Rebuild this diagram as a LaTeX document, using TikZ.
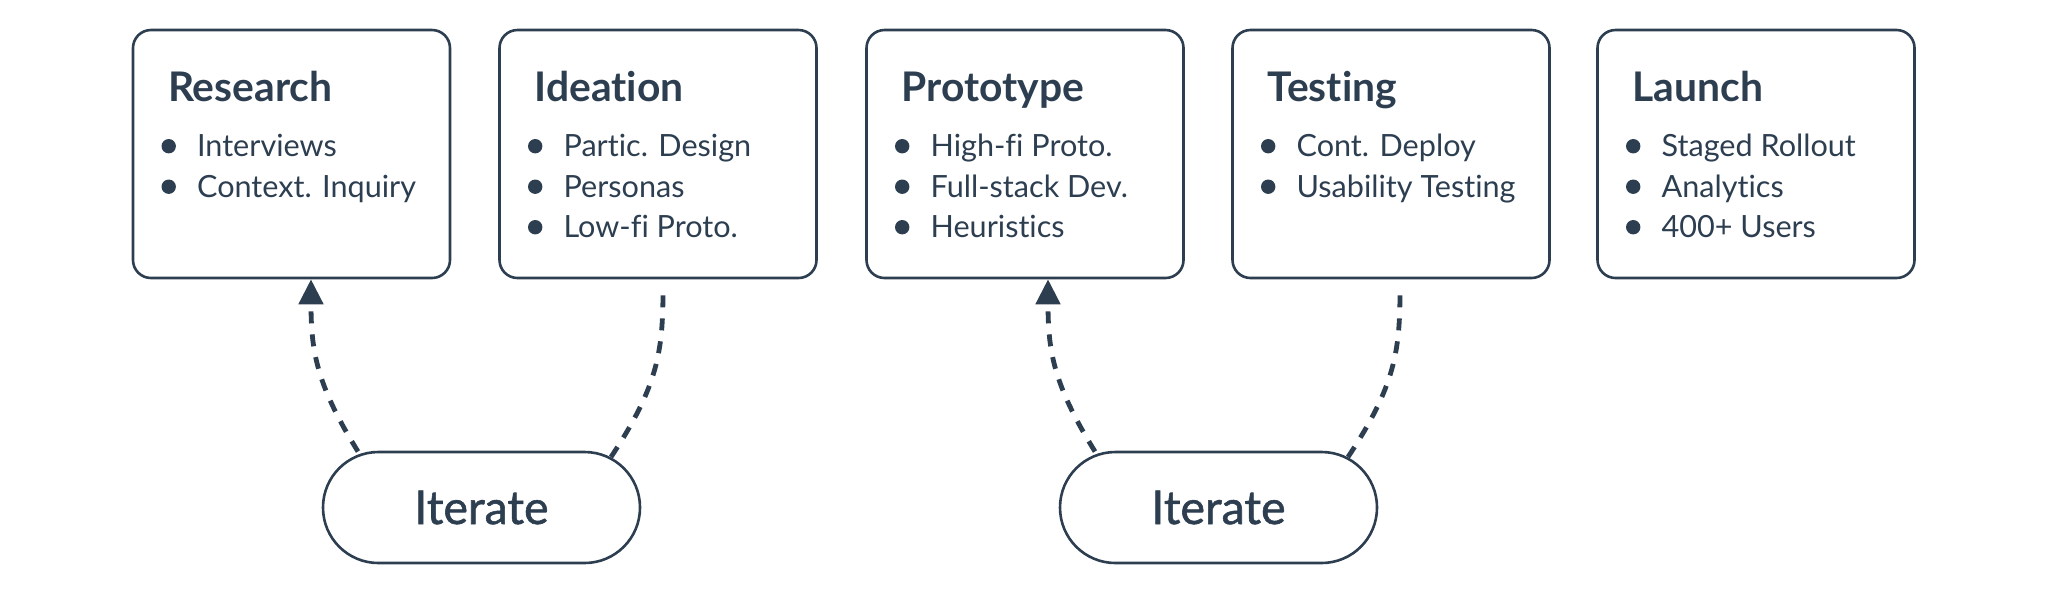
\documentclass[tikz,border=0pt]{standalone}
\usepackage{fontspec}
\setmainfont{Lato}[Ligatures={NoCommon}]
\newfontfamily\iterfont{Lato}[FakeBold=1.2,Ligatures={NoCommon}]
\usetikzlibrary{arrows.meta,calc}
\definecolor{ink}{HTML}{2C3E50}
\begin{document}
\begin{tikzpicture}[x=0.5pt,y=-0.5pt,
  stagebox/.style={draw=ink, line width=1.3pt, rounded corners=9pt, minimum width=158.5pt, minimum height=124pt, inner sep=0pt},
  iterbox/.style={draw=ink, line width=1.3pt, rounded corners=27.7pt, minimum width=158.5pt, minimum height=55.5pt, inner sep=0pt, text=ink, font=\iterfont\fontsize{23.3pt}{27pt}\selectfont},
  ttl/.style={anchor=base west, inner sep=0pt, text=ink, font=\bfseries\fontsize{20.4pt}{24pt}\selectfont},
  itm/.style={anchor=base west, inner sep=0pt, text=ink, font=\fontsize{15.3pt}{18pt}\selectfont},
  dot/.style={fill=ink},
  loop/.style={draw=ink, line width=2.4pt, dash pattern=on 6pt off 5.5pt},
  tip/.style={-{Triangle[width=12pt,length=12.5pt]}}
]
\useasboundingbox (0,0) rectangle (2048,591);

% stage boxes
\node[stagebox] (research)  at (291.5,154) {};
\node[stagebox] (ideation)  at (658,154)   {};
\node[stagebox] (prototype) at (1025,154)  {};
\node[stagebox] (testing)   at (1391,154)  {};
\node[stagebox] (launch)    at (1756,154)  {};

% titles and items
\node[ttl] (researchT) at ($(research.north west)+(36,73)$) {Research};
\fill[dot] ($(research.north west)+(37,117.5)$) circle[radius=3.6pt];
\node[itm] (researchA) at ($(research.north west)+(65,128)$) {Interviews};
\fill[dot] ($(research.north west)+(37,158)$) circle[radius=3.6pt];
\node[itm] (researchB) at ($(research.north west)+(65,168.5)$) {Context. Inquiry};

\node[ttl] (ideationT) at ($(ideation.north west)+(36,73)$) {Ideation};
\fill[dot] ($(ideation.north west)+(37,117.5)$) circle[radius=3.6pt];
\node[itm] (ideationA) at ($(ideation.north west)+(65,128)$) {Partic. Design};
\fill[dot] ($(ideation.north west)+(37,158)$) circle[radius=3.6pt];
\node[itm] (ideationB) at ($(ideation.north west)+(65,168.5)$) {Personas};
\fill[dot] ($(ideation.north west)+(37,198.5)$) circle[radius=3.6pt];
\node[itm] (ideationC) at ($(ideation.north west)+(65,209)$) {Low-fi Proto.};

\node[ttl] (prototypeT) at ($(prototype.north west)+(36,73)$) {Prototype};
\fill[dot] ($(prototype.north west)+(37,117.5)$) circle[radius=3.6pt];
\node[itm] (prototypeA) at ($(prototype.north west)+(65,128)$) {High-fi Proto.};
\fill[dot] ($(prototype.north west)+(37,158)$) circle[radius=3.6pt];
\node[itm] (prototypeB) at ($(prototype.north west)+(65,168.5)$) {Full-stack Dev.};
\fill[dot] ($(prototype.north west)+(37,198.5)$) circle[radius=3.6pt];
\node[itm] (prototypeC) at ($(prototype.north west)+(65,209)$) {Heuristics};

\node[ttl] (testingT) at ($(testing.north west)+(36,73)$) {Testing};
\fill[dot] ($(testing.north west)+(37,117.5)$) circle[radius=3.6pt];
\node[itm] (testingA) at ($(testing.north west)+(65,128)$) {Cont. Deploy};
\fill[dot] ($(testing.north west)+(37,158)$) circle[radius=3.6pt];
\node[itm] (testingB) at ($(testing.north west)+(65,168.5)$) {Usability Testing};

\node[ttl] (launchT) at ($(launch.north west)+(36,73)$) {Launch};
\fill[dot] ($(launch.north west)+(37,117.5)$) circle[radius=3.6pt];
\node[itm] (launchA) at ($(launch.north west)+(65,128)$) {Staged Rollout};
\fill[dot] ($(launch.north west)+(37,158)$) circle[radius=3.6pt];
\node[itm] (launchB) at ($(launch.north west)+(65,168.5)$) {Analytics};
\fill[dot] ($(launch.north west)+(37,198.5)$) circle[radius=3.6pt];
\node[itm] (launchC) at ($(launch.north west)+(65,209)$) {400+ Users};

% iterate nodes
\node[iterbox] (iter1) at (481.5,507.5) {Iterate};
\node[iterbox] (iter2) at (1218.5,507.5) {Iterate};

% loops
\draw[loop,tip] ($(iter1.center)+(-123.5,-56)$) .. controls ($(iter1.center)+(-165.5,-123.5)$) and ($(research.south)+(19.5,71)$) .. ($(research.south)+(19.5,0)$);
\draw[loop] ($(iter1.center)+(129.5,-50.5)$) .. controls ($(iter1.center)+(176.5,-121.5)$) and ($(ideation.south)+(5,72)$) .. ($(ideation.south)+(5,10)$);

\draw[loop,tip] ($(iter2.center)+(-123.5,-56)$) .. controls ($(iter2.center)+(-165.5,-123.5)$) and ($(prototype.south)+(23,71)$) .. ($(prototype.south)+(23,0)$);
\draw[loop] ($(iter2.center)+(129.5,-50.5)$) .. controls ($(iter2.center)+(176.5,-121.5)$) and ($(testing.south)+(9,72)$) .. ($(testing.south)+(9,10)$);
\end{tikzpicture}
\end{document}
